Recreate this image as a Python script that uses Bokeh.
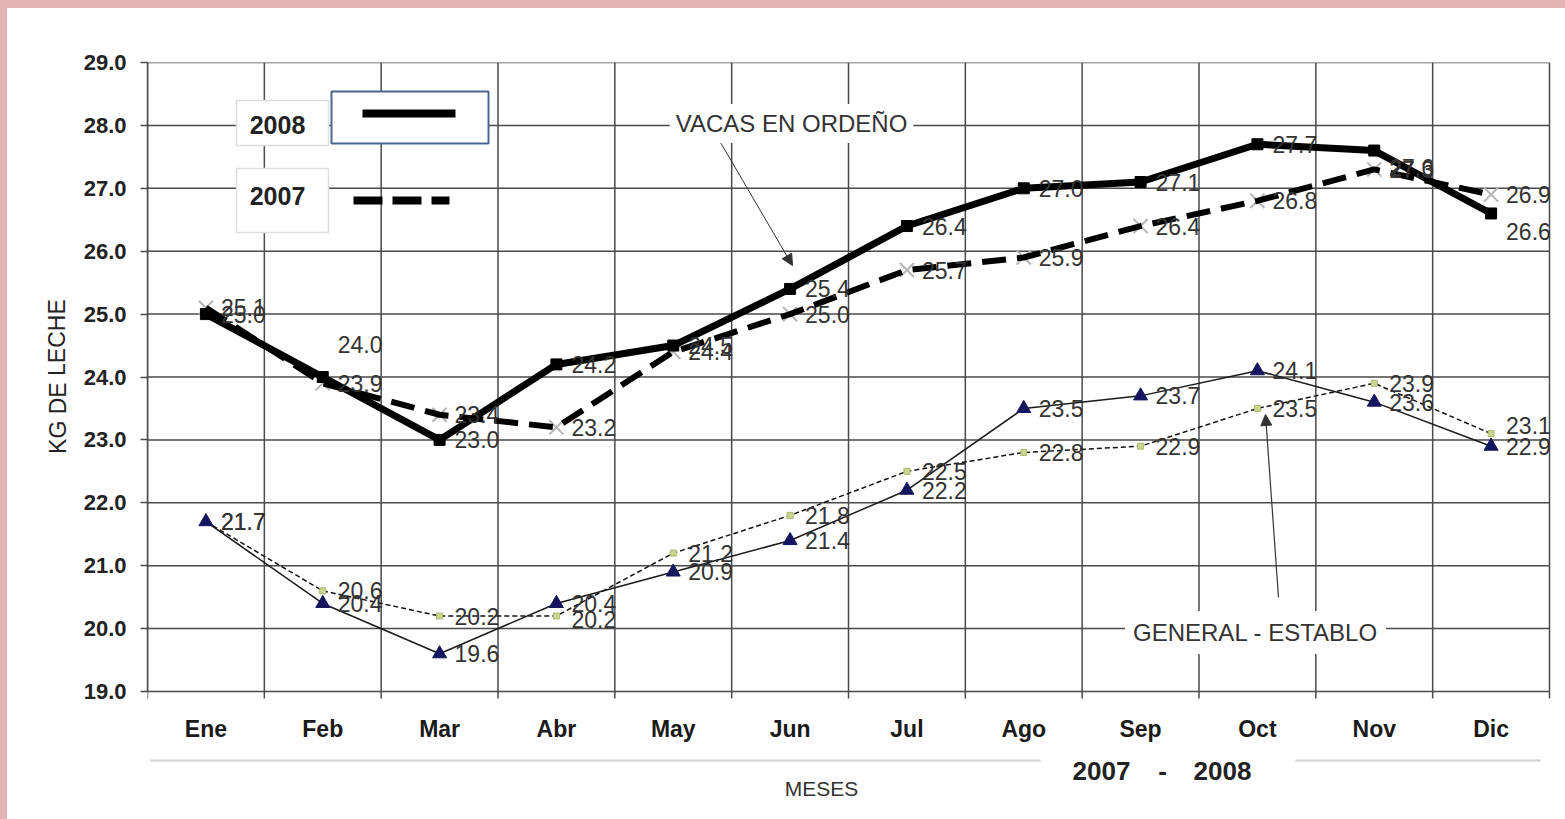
from bokeh.plotting import figure
from bokeh.models import (Range1d, FixedTicker, NumeralTickFormatter, Label, LabelSet,
                          ColumnDataSource, Arrow, NormalHead, Spacer)
from bokeh.layouts import column, row
from bokeh.core.properties import value
from bokeh.embed import file_html
from bokeh.resources import INLINE

# ---------------- data ----------------
months = ["Ene", "Feb", "Mar", "Abr", "May", "Jun", "Jul", "Ago", "Sep", "Oct", "Nov", "Dic"]
vacas_2008 = [25.0, 24.0, 23.0, 24.2, 24.5, 25.4, 26.4, 27.0, 27.1, 27.7, 27.6, 26.6]
vacas_2007 = [25.1, 23.9, 23.4, 23.2, 24.4, 25.0, 25.7, 25.9, 26.4, 26.8, 27.3, 26.9]
general_2008 = [21.7, 20.4, 19.6, 20.4, 20.9, 21.4, 22.2, 23.5, 23.7, 24.1, 23.6, 22.9]
general_2007 = [21.7, 20.6, 20.2, 20.2, 21.2, 21.8, 22.5, 22.8, 22.9, 23.5, 23.9, 23.1]
y_ticks = [19, 20, 21, 22, 23, 24, 25, 26, 27, 28, 29]

# label vertical nudges (screen px, + = up)
dy_v08 = [0, 33, 0, 0, 0, 0, 0, 0, 0, 0, -17, -18]
dy_v07 = [0] * 12
dy_g08 = [0] * 12
dy_g07 = [0, 0, 0, -3, 0, 0, 0, 0, 0, 0, 0, 8]

# ---------------- geometry helpers (page px -> data) ----------------
PL, PR, PT, PB = 147, 1549, 62, 691      # where 0..12 / 19..29 sit on the page
XS = (PR - PL) / 12.0
YS = (PB - PT) / 10.0
def fx(px):
    return (px - PL) / XS
def fy(py):
    return 19 + (PB - py) / YS

FONT = value("Liberation Sans")
FONT_S = "Liberation Sans"
PINK = "#e3b3b6"
GRID = "#4a4a4a"
OX, OY = 7, 8                       # pink strip
LW = 70                             # width of the y-title panel
H = 819 - OY
W = 1565 - OX - LW

# ---------------- y title panel ----------------
t = figure(width=LW, height=H, output_backend="svg", toolbar_location=None,
           x_range=Range1d(OX, OX + LW), y_range=Range1d(819, OY),
           min_border=0)
t.outline_line_color = None
t.axis.visible = False
t.grid.visible = False
t.add_layout(Label(x=57, y=(PT + PB) / 2 - 32, text="KG DE LECHE", angle=1.5708,
                   text_align="center", text_baseline="middle", text_font=FONT_S,
                   text_font_size="23px", text_color="#222222"))

# ---------------- main chart ----------------
p = figure(width=W, height=H, output_backend="svg", toolbar_location=None,
           x_range=Range1d(0, fx(1565)), y_range=Range1d(fy(819), 29),
           min_border_left=PL - OX - LW, min_border_right=0,
           min_border_top=PT - OY, min_border_bottom=0)
p.outline_line_color = None
p.background_fill_color = "white"
p.border_fill_color = "white"
p.xaxis.visible = False
p.xgrid.visible = False
p.ygrid.visible = False

p.yaxis.bounds = (19, 29)
p.yaxis.ticker = FixedTicker(ticks=y_ticks)
p.yaxis.formatter = NumeralTickFormatter(format="0.0")
p.yaxis.minor_tick_line_color = None
p.yaxis.major_tick_in = 0
p.yaxis.major_tick_out = 7
p.yaxis.major_label_standoff = 14
p.yaxis.axis_line_color = GRID
p.yaxis.axis_line_width = 1.5
p.yaxis.major_tick_line_color = GRID
p.yaxis.major_tick_line_width = 1.5
p.yaxis.major_label_text_font = FONT_S
p.yaxis.major_label_text_font_style = "bold"
p.yaxis.major_label_text_font_size = "22px"
p.yaxis.major_label_text_color = "#222222"

# grid (limited to the 19..29 / Ene..Dic box) and bottom ticks
bounds_x = list(range(13))
p.segment(x0=[0] * len(y_ticks), y0=y_ticks, x1=[12] * len(y_ticks), y1=y_ticks,
          line_color=GRID, line_width=1.5)
p.segment(x0=bounds_x, y0=[19] * 13, x1=bounds_x, y1=[29] * 13,
          line_color=GRID, line_width=1.5)
p.segment(x0=bounds_x, y0=[19] * 13, x1=bounds_x, y1=[fy(698)] * 13,
          line_color=GRID, line_width=1.5)

xs = [i + 0.5 for i in range(12)]

# ---------------- series ----------------
p.scatter(xs, vacas_2007, marker="x", size=20, line_color="#b5b5b5", line_width=2)
p.line(xs, vacas_2007, line_color="black", line_width=6, line_dash="24 11")
p.line(xs, vacas_2008, line_color="black", line_width=7, line_join="round")
p.scatter(xs, vacas_2008, marker="square", size=11, fill_color="black", line_color="black")

p.line(xs, general_2007, line_color="#111111", line_width=1.5, line_dash="5 3")
p.scatter(xs, general_2007, marker="square", size=6, fill_color="#c9d690", line_color="#aab870")
p.line(xs, general_2008, line_color="#1a1a1a", line_width=1.5)
p.scatter(xs, general_2008, marker="triangle", size=14, fill_color="#15155f", line_color="#15155f")

# ---------------- data labels ----------------
def add_labels(vals, dys):
    src = ColumnDataSource(dict(x=xs, y=vals, t=[f"{v:.1f}" for v in vals], dy=dys))
    p.add_layout(LabelSet(x="x", y="y", text="t", source=src, x_offset=15, y_offset="dy",
                          text_align="left", text_baseline="middle",
                          text_font=FONT, text_font_size="23px", text_color="#333333"))

add_labels(vacas_2007, dy_v07)
add_labels(vacas_2008, dy_v08)
add_labels(general_2007, dy_g07)
add_labels(general_2008, dy_g08)

# ---------------- legend boxes ----------------
p.quad(left=[fx(236)], right=[fx(328)], top=[fy(100)], bottom=[fy(145)],
       fill_color="white", line_color="#dddddd", line_width=1.5)
p.quad(left=[fx(331)], right=[fx(488)], top=[fy(91)], bottom=[fy(143)],
       fill_color="white", line_color="#4a6590", line_width=2)
p.quad(left=[fx(236)], right=[fx(328)], top=[fy(168)], bottom=[fy(232)],
       fill_color="white", line_color="#dddddd", line_width=1.5)
p.line([fx(362), fx(455)], [fy(113), fy(113)], line_color="black", line_width=8)
p.line([fx(353), fx(449)], [fy(200), fy(200)], line_color="black", line_width=8, line_dash="29 10")
for txt, py in (("2008", 124), ("2007", 195)):
    p.add_layout(Label(x=fx(277), y=fy(py), text=txt, text_align="center", text_baseline="middle",
                       text_font=FONT_S, text_font_style="bold", text_font_size="25px",
                       text_color="#222222"))

# ---------------- annotations ----------------
p.add_layout(Arrow(x_start=fx(720), y_start=fy(142), x_end=fx(792), y_end=fy(265),
                   line_color="#333333", line_width=1,
                   end=NormalHead(size=11, fill_color="#333333", line_color="#333333")))
p.add_layout(Arrow(x_start=fx(1278), y_start=fy(597), x_end=fx(1265), y_end=fy(414),
                   line_color="#333333", line_width=1.2,
                   end=NormalHead(size=11, fill_color="#333333", line_color="#333333")))
p.add_layout(Label(x=fx(791), y=fy(123), text="VACAS EN ORDEÑO", text_align="center",
                   text_baseline="middle", text_font=FONT_S, text_font_size="24px",
                   text_color="#333333", background_fill_color="white", padding=6))
p.add_layout(Label(x=fx(1255), y=fy(632), text="GENERAL - ESTABLO", text_align="center",
                   text_baseline="middle", text_font=FONT_S, text_font_size="24px",
                   text_color="#333333", background_fill_color="white", padding=8))

# ---------------- texts under the axis ----------------
msrc = ColumnDataSource(dict(x=xs, y=[fy(728)] * 12, t=months))
p.add_layout(LabelSet(x="x", y="y", text="t", source=msrc, text_align="center",
                      text_baseline="middle", text_font=FONT, text_font_style="bold",
                      text_font_size="23px", text_color="#1a1a1a"))
p.add_layout(Label(x=fx(821), y=fy(788), text="MESES", text_align="center",
                   text_baseline="middle", text_font=FONT_S, text_font_size="21px",
                   text_color="#333333"))
for txt, px in (("2007", 1101), ("-", 1162), ("2008", 1222)):
    p.add_layout(Label(x=fx(px), y=fy(770), text=txt, text_align="center",
                       text_baseline="middle", text_font=FONT_S, text_font_style="bold",
                       text_font_size="26px", text_color="#222222"))
p.segment(x0=[fx(150), fx(1295)], y0=[fy(760)] * 2, x1=[fx(1040), fx(1540)], y1=[fy(760)] * 2,
          line_color="#d0d0d0", line_width=2)

# ---------------- pink frame strip ----------------
top_strip = Spacer(width=1565, height=OY, styles={"background-color": PINK})
left_strip = Spacer(width=OX, height=H, styles={"background-color": PINK})
page = column(top_strip, row(left_strip, t, p, spacing=0), spacing=0)

open("out.html", "w").write(file_html(page, INLINE))
